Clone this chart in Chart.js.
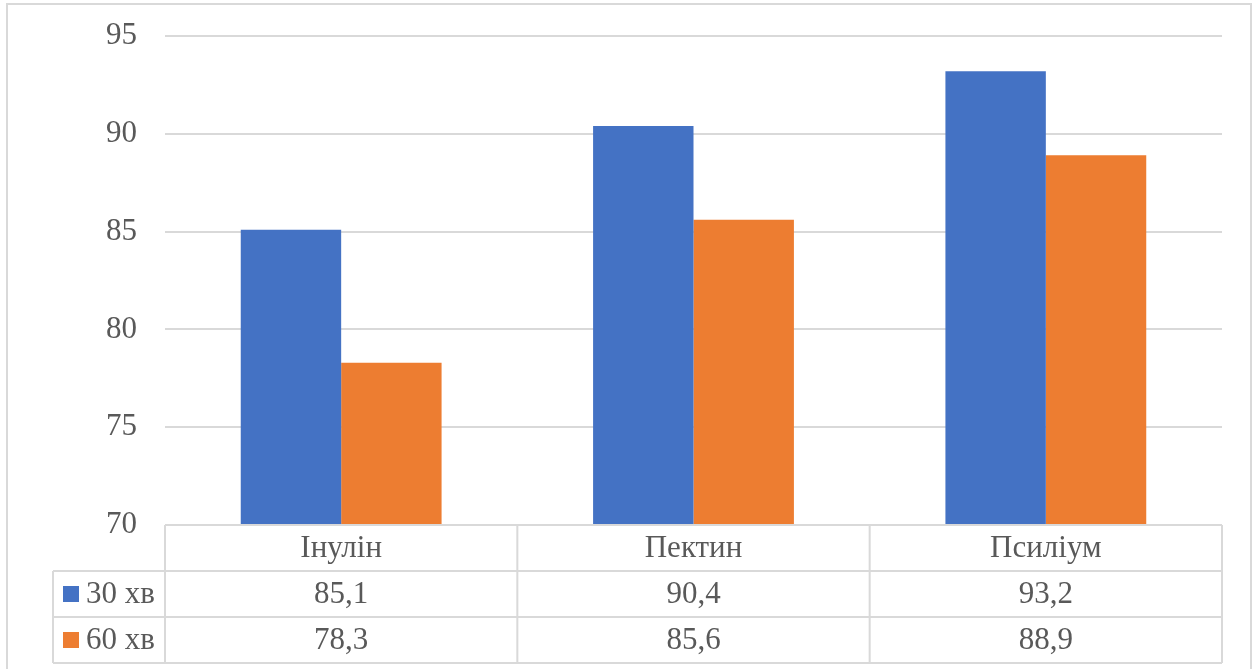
<!DOCTYPE html>
<html>
<head>
<meta charset="utf-8">
<script src="https://cdn.jsdelivr.net/npm/chart.js@4/dist/chart.umd.min.js"></script>
<style>
  html, body { margin: 0; padding: 0; background: #ffffff; }
  #wrap { width: 1256px; height: 669px; position: relative; }
</style>
</head>
<body>
<div id="wrap"><canvas id="chart" width="1256" height="669"></canvas></div>
<script>
const categories = ['Інулін', 'Пектин', 'Псиліум'];
const seriesNames = ['30 хв', '60 хв'];
const values30 = [85.1, 90.4, 93.2];
const values60 = [78.3, 85.6, 88.9];
const yTicks = [70, 75, 80, 85, 90, 95];

const colors = ['#4472C4', '#ED7D31'];
const textColor = '#595959';
const lineColor = '#d9d9d9';
const fontFamily = '"Liberation Serif", "Times New Roman", serif';

const fmt = v => v.toFixed(1).replace('.', ',');

// Data table under the plot, aligned to the category scale
const dataTablePlugin = {
  id: 'dataTable',
  afterDraw(chart) {
    const ctx = chart.ctx;
    const x = chart.scales.x;
    const y = chart.scales.y;
    const area = chart.chartArea;
    const half = (x.getPixelForValue(1) - x.getPixelForValue(0)) / 2;
    const top = y.getPixelForValue(70);
    const rowH = 46;
    const legendLeft = 53;
    const rows = [top, top + rowH, top + 2 * rowH, top + 3 * rowH];

    ctx.save();
    ctx.strokeStyle = lineColor;
    ctx.lineWidth = 2;
    // horizontal lines
    ctx.beginPath();
    ctx.moveTo(area.left, rows[0]); ctx.lineTo(area.right, rows[0]);
    for (let r = 1; r < rows.length; r++) {
      ctx.moveTo(legendLeft, rows[r]); ctx.lineTo(area.right, rows[r]);
    }
    // vertical lines
    ctx.moveTo(legendLeft, rows[1]); ctx.lineTo(legendLeft, rows[3]);
    const edges = [x.getPixelForValue(0) - half];
    categories.forEach((c, i) => edges.push(x.getPixelForValue(i) + half));
    edges.forEach(ex => { ctx.moveTo(ex, rows[0]); ctx.lineTo(ex, rows[3]); });
    ctx.stroke();

    // text
    ctx.fillStyle = textColor;
    ctx.font = '31px ' + fontFamily;
    ctx.textAlign = 'center';
    ctx.textBaseline = 'middle';
    categories.forEach((c, i) => {
      const cx = x.getPixelForValue(i);
      ctx.fillText(c, cx, rows[0] + rowH / 2 + 1);
      ctx.fillText(fmt(values30[i]), cx, rows[1] + rowH / 2 + 1);
      ctx.fillText(fmt(values60[i]), cx, rows[2] + rowH / 2 + 1);
    });

    // series keys
    ctx.textAlign = 'left';
    seriesNames.forEach((name, s) => {
      const cy = rows[s + 1] + rowH / 2;
      ctx.fillStyle = colors[s];
      ctx.fillRect(63, cy - 8, 16, 16);
      ctx.fillStyle = textColor;
      ctx.fillText(name, 86, cy + 1);
    });

    // outer frame
    ctx.strokeStyle = lineColor;
    ctx.lineWidth = 2;
    ctx.strokeRect(7, 4, 1244, 680);
    ctx.restore();
  }
};

new Chart(document.getElementById('chart'), {
  type: 'bar',
  data: {
    labels: categories,
    datasets: [
      { label: seriesNames[0], data: values30, backgroundColor: colors[0] },
      { label: seriesNames[1], data: values60, backgroundColor: colors[1] }
    ]
  },
  options: {
    responsive: false,
    animation: false,
    layout: { padding: { left: 0, top: 36, right: 34, bottom: 144 } },
    datasets: { bar: { categoryPercentage: 0.57, barPercentage: 1.0 } },
    plugins: { legend: { display: false }, tooltip: { enabled: false } },
    scales: {
      x: { display: false },
      y: {
        min: 70, max: 95,
        afterFit(scale) {
          scale.width = 165;
          scale.paddingTop = 0;
          scale.paddingBottom = 0;
        },
        afterBuildTicks(scale) { scale.ticks = yTicks.map(v => ({ value: v })); },
        border: { display: false },
        grid: { color: lineColor, lineWidth: 2, drawTicks: false },
        ticks: {
          padding: 28,
          color: textColor,
          font: { family: fontFamily, size: 31 }
        }
      }
    }
  },
  plugins: [dataTablePlugin]
});
</script>
</body>
</html>
